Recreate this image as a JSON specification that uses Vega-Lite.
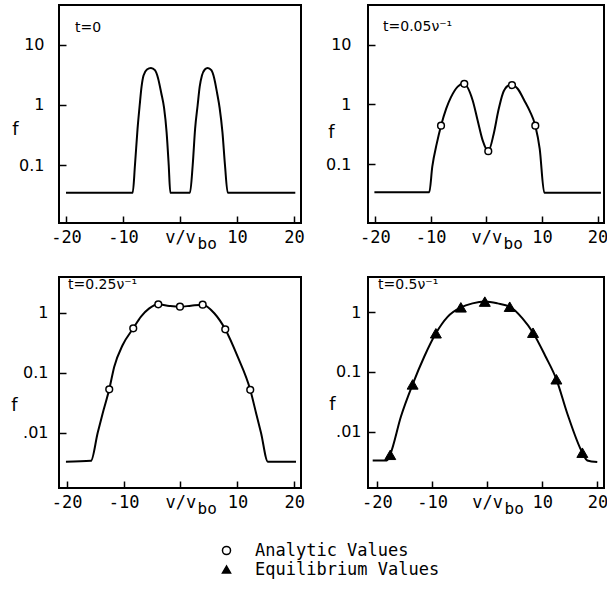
{
  "$schema": "https://vega.github.io/schema/vega-lite/v6.json",
  "padding": {"left": 9, "top": 4, "right": 0, "bottom": 2},
  "background": "white",
  "config": {
    "view": {"stroke": "black", "strokeWidth": 2},
    "axis": {"grid": false, "domain": false, "ticks": true, "tickColor": "black", "tickWidth": 1.5, "tickSize": -7, "labelColor": "black", "titleColor": "black", "titleFontWeight": "normal"},
    "title": {"font": "DejaVu Sans", "fontSize": 14, "fontWeight": "normal", "anchor": "start", "frame": "group", "baseline": "alphabetic", "color": "black"},
    "line": {"color": "black", "strokeWidth": 2, "interpolate": "monotone"},
    "legend": {"title": null, "labelFont": "DejaVu Sans Mono", "labelFontSize": 17, "labelColor": "black", "labelLimit": 0, "symbolStrokeColor": "black", "symbolStrokeWidth": 1.5, "symbolSize": 65, "labelOffset": 20, "rowPadding": 1, "padding": 0}
  },
  "datasets": {
    "c1": [
      {"v": -20.0, "f": 0.0346}, {"v": -8.30, "f": 0.0346}, {"v": -7.90, "f": 0.1}, {"v": -7.45, "f": 0.4}, {"v": -7.07, "f": 1.0}, {"v": -6.75, "f": 2.0}, {"v": -6.4, "f": 3.1}, {"v": -5.8, "f": 3.9}, {"v": -5.09, "f": 4.15}, {"v": -4.4, "f": 3.8}, {"v": -3.85, "f": 2.8}, {"v": -3.3, "f": 1.6}, {"v": -2.8, "f": 0.9}, {"v": -2.35, "f": 0.35}, {"v": -1.98, "f": 0.1}, {"v": -1.70, "f": 0.0346},
      {"v": 1.75, "f": 0.0346}, {"v": 2.23, "f": 0.1}, {"v": 2.65, "f": 0.4}, {"v": 3.10, "f": 1.0}, {"v": 3.45, "f": 2.0}, {"v": 3.85, "f": 3.1}, {"v": 4.35, "f": 3.9}, {"v": 4.86, "f": 4.15}, {"v": 5.5, "f": 3.8}, {"v": 6.0, "f": 2.8}, {"v": 6.5, "f": 1.6}, {"v": 6.95, "f": 0.9}, {"v": 7.45, "f": 0.35}, {"v": 7.89, "f": 0.1}, {"v": 8.37, "f": 0.0346}, {"v": 20.23, "f": 0.0346}
    ],
    "c2": [
      {"v": -20.1, "f": 0.0336}, {"v": -10.24, "f": 0.0336}, {"v": -9.7, "f": 0.09}, {"v": -8.9, "f": 0.22}, {"v": -8.13, "f": 0.44}, {"v": -7.2, "f": 0.85}, {"v": -6.34, "f": 1.33}, {"v": -5.13, "f": 2.0}, {"v": -4.1, "f": 2.26}, {"v": -2.44, "f": 1.17}, {"v": -1.55, "f": 0.54}, {"v": -0.65, "f": 0.25}, {"v": 0.36, "f": 0.164}, {"v": 1.33, "f": 0.32}, {"v": 2.17, "f": 0.79}, {"v": 2.95, "f": 1.51}, {"v": 3.85, "f": 2.05}, {"v": 4.5, "f": 2.15}, {"v": 5.64, "f": 1.84}, {"v": 6.83, "f": 1.17}, {"v": 7.8, "f": 0.78}, {"v": 8.81, "f": 0.44}, {"v": 9.6, "f": 0.18}, {"v": 10.42, "f": 0.033}, {"v": 20.6, "f": 0.033}
    ],
    "p2": [
      {"v": -8.13, "f": 0.44, "kind": "Analytic Values"}, {"v": -3.95, "f": 2.23, "kind": "Analytic Values"}, {"v": 0.36, "f": 0.164, "kind": "Analytic Values"}, {"v": 4.62, "f": 2.12, "kind": "Analytic Values"}, {"v": 8.81, "f": 0.44, "kind": "Analytic Values"}
    ],
    "c3": [
      {"v": -20.13, "f": 0.0033}, {"v": -15.73, "f": 0.0034}, {"v": -14.55, "f": 0.01}, {"v": -13.68, "f": 0.021}, {"v": -12.52, "f": 0.053}, {"v": -11.64, "f": 0.126}, {"v": -10.16, "f": 0.29}, {"v": -8.3, "f": 0.55}, {"v": -6.94, "f": 0.86}, {"v": -5.49, "f": 1.18}, {"v": -3.9, "f": 1.38}, {"v": -1.97, "f": 1.3}, {"v": -0.09, "f": 1.26}, {"v": 1.84, "f": 1.31}, {"v": 3.9, "f": 1.36}, {"v": 5.94, "f": 0.98}, {"v": 7.87, "f": 0.53}, {"v": 10.05, "f": 0.185}, {"v": 12.26, "f": 0.052}, {"v": 13.3, "f": 0.021}, {"v": 14.15, "f": 0.01}, {"v": 15.35, "f": 0.0033}, {"v": 20.3, "f": 0.0033}
    ],
    "p3": [
      {"v": -12.52, "f": 0.053, "kind": "Analytic Values"}, {"v": -8.3, "f": 0.55, "kind": "Analytic Values"}, {"v": -3.9, "f": 1.38, "kind": "Analytic Values"}, {"v": -0.09, "f": 1.26, "kind": "Analytic Values"}, {"v": 3.9, "f": 1.36, "kind": "Analytic Values"}, {"v": 7.87, "f": 0.53, "kind": "Analytic Values"}, {"v": 12.26, "f": 0.052, "kind": "Analytic Values"}
    ],
    "c4": [
      {"v": -20.78, "f": 0.0033}, {"v": -18.2, "f": 0.0033}, {"v": -17.59, "f": 0.0042}, {"v": -15.65, "f": 0.018}, {"v": -13.53, "f": 0.062}, {"v": -11.43, "f": 0.18}, {"v": -9.31, "f": 0.445}, {"v": -7.19, "f": 0.84}, {"v": -4.78, "f": 1.21}, {"v": -2.66, "f": 1.41}, {"v": -0.43, "f": 1.51}, {"v": 1.87, "f": 1.41}, {"v": 4.09, "f": 1.24}, {"v": 6.4, "f": 0.79}, {"v": 8.32, "f": 0.455}, {"v": 10.62, "f": 0.18}, {"v": 12.56, "f": 0.0755}, {"v": 14.55, "f": 0.02}, {"v": 17.27, "f": 0.00445}, {"v": 18.17, "f": 0.0033}, {"v": 19.98, "f": 0.0031}
    ],
    "p4": [
      {"v": -17.59, "f": 0.0041, "kind": "Equilibrium Values"}, {"v": -13.53, "f": 0.062, "kind": "Equilibrium Values"}, {"v": -9.31, "f": 0.445, "kind": "Equilibrium Values"}, {"v": -4.78, "f": 1.21, "kind": "Equilibrium Values"}, {"v": -0.43, "f": 1.51, "kind": "Equilibrium Values"}, {"v": 4.09, "f": 1.24, "kind": "Equilibrium Values"}, {"v": 8.32, "f": 0.455, "kind": "Equilibrium Values"}, {"v": 12.56, "f": 0.0755, "kind": "Equilibrium Values"}, {"v": 17.27, "f": 0.00445, "kind": "Equilibrium Values"}
    ]
  },
  "columns": 2,
  "spacing": {"row": 54, "column": 67},
  "bounds": "flush",
  "resolve": {"scale": {"x": "independent", "y": "independent"}},
  "concat": [
    {
      "width": 242, "height": 218,
      "title": {"text": "t=0", "offset": -30, "dx": 16},
      "data": {"name": "c1"},
      "mark": {"type": "line"},
      "encoding": {
        "x": {"field": "v", "type": "quantitative", "scale": {"domain": [-21.23, 21.23], "nice": false, "zero": false},
              "axis": {"values": [-20, -10, 0, 10, 20], "labelExpr": "datum.value == 0 ? 'v/v' : (datum.value < 0 ? '-' + abs(datum.value) : '' + datum.value)", "labelFont": "DejaVu Sans Mono", "labelFontSize": 17, "labelPadding": 13, "labelFlush": false, "title": "bo", "titleFont": "DejaVu Sans Mono", "titleFontSize": 16, "titleX": 138, "titleY": 25, "titleAlign": "left", "titleBaseline": "alphabetic"}},
        "y": {"field": "f", "type": "quantitative", "scale": {"type": "log", "domain": [0.0108, 46.4], "nice": false},
              "axis": {"values": [0.1, 1, 10], "labelExpr": "datum.value < 0.05 ? '.01' : datum.value < 0.5 ? '0.1' : datum.value < 5 ? '1' : '10'", "labelFont": "DejaVu Sans", "labelFontSize": 16, "labelPadding": 22, "title": "f", "titleAngle": 0, "titleX": -44, "titleY": 124, "titleAlign": "center", "titleBaseline": "middle", "titleFont": "DejaVu Sans", "titleFontSize": 18}}
      }
    },
    {
      "width": 236, "height": 218,
      "title": {"text": "t=0.05ν⁻¹", "offset": -29, "dx": 15},
      "encoding": {
        "x": {"field": "v", "type": "quantitative", "scale": {"domain": [-21.25, 21.15], "nice": false, "zero": false},
              "axis": {"values": [-20, -10, 0, 10, 20], "labelExpr": "datum.value == 0 ? 'v/v' : (datum.value < 0 ? '-' + abs(datum.value) : '' + datum.value)", "labelFont": "DejaVu Sans Mono", "labelFontSize": 17, "labelPadding": 13, "labelFlush": false, "title": "bo", "titleFont": "DejaVu Sans Mono", "titleFontSize": 16, "titleX": 135, "titleY": 25, "titleAlign": "left", "titleBaseline": "alphabetic"}},
        "y": {"field": "f", "type": "quantitative", "scale": {"type": "log", "domain": [0.0102, 47], "nice": false},
              "axis": {"values": [0.1, 1, 10], "labelExpr": "datum.value < 0.05 ? '.01' : datum.value < 0.5 ? '0.1' : datum.value < 5 ? '1' : '10'", "labelFont": "DejaVu Sans", "labelFontSize": 16, "labelPadding": 24, "title": "f", "titleAngle": 0, "titleX": -37, "titleY": 127, "titleAlign": "center", "titleBaseline": "middle", "titleFont": "DejaVu Sans", "titleFontSize": 18}}
      },
      "layer": [
        {"data": {"name": "c2"}, "mark": {"type": "line"}},
        {"data": {"name": "p2"}, "mark": {"type": "point", "filled": true, "size": 45, "strokeWidth": 1.5, "opacity": 1},
         "encoding": {
           "shape": {"field": "kind", "type": "nominal", "scale": {"domain": ["Analytic Values", "Equilibrium Values"], "range": ["circle", "triangle-up"]}, "legend": {"orient": "none", "legendX": 159, "legendY": 537}},
           "fill": {"field": "kind", "type": "nominal", "scale": {"domain": ["Analytic Values", "Equilibrium Values"], "range": ["white", "black"]}, "legend": {"orient": "none", "legendX": 159, "legendY": 537}},
           "stroke": {"field": "kind", "type": "nominal", "scale": {"domain": ["Analytic Values", "Equilibrium Values"], "range": ["black", "black"]}, "legend": {"orient": "none", "legendX": 159, "legendY": 537}}
         }}
      ]
    },
    {
      "width": 242, "height": 211,
      "title": {"text": "t=0.25ν⁻¹", "offset": -15, "dx": 9, "fontSize": 14},
      "encoding": {
        "x": {"field": "v", "type": "quantitative", "scale": {"domain": [-21.35, 21.18], "nice": false, "zero": false},
              "axis": {"values": [-20, -10, 0, 10, 20], "labelExpr": "datum.value == 0 ? 'v/v' : (datum.value < 0 ? '-' + abs(datum.value) : '' + datum.value)", "labelFont": "DejaVu Sans Mono", "labelFontSize": 17, "labelPadding": 13, "labelFlush": false, "title": "bo", "titleFont": "DejaVu Sans Mono", "titleFontSize": 16, "titleX": 138, "titleY": 25, "titleAlign": "left", "titleBaseline": "alphabetic"}},
        "y": {"field": "f", "type": "quantitative", "scale": {"type": "log", "domain": [0.0012, 3.94], "nice": false},
              "axis": {"values": [0.01, 0.1, 1], "labelExpr": "datum.value < 0.05 ? '.01' : datum.value < 0.5 ? '0.1' : datum.value < 5 ? '1' : '10'", "labelFont": "DejaVu Sans", "labelFontSize": 16, "labelPadding": 18, "title": "f", "titleAngle": 0, "titleX": -45, "titleY": 128, "titleAlign": "center", "titleBaseline": "middle", "titleFont": "DejaVu Sans", "titleFontSize": 18}}
      },
      "layer": [
        {"data": {"name": "c3"}, "mark": {"type": "line"}},
        {"data": {"name": "p3"}, "mark": {"type": "point", "filled": true, "size": 45, "strokeWidth": 1.5, "opacity": 1},
         "encoding": {
           "shape": {"field": "kind", "type": "nominal", "scale": {"domain": ["Analytic Values", "Equilibrium Values"], "range": ["circle", "triangle-up"]}, "legend": {"orient": "none", "legendX": 159, "legendY": 537}},
           "fill": {"field": "kind", "type": "nominal", "scale": {"domain": ["Analytic Values", "Equilibrium Values"], "range": ["white", "black"]}, "legend": {"orient": "none", "legendX": 159, "legendY": 537}},
           "stroke": {"field": "kind", "type": "nominal", "scale": {"domain": ["Analytic Values", "Equilibrium Values"], "range": ["black", "black"]}, "legend": {"orient": "none", "legendX": 159, "legendY": 537}}
         }}
      ]
    },
    {
      "width": 236, "height": 211,
      "title": {"text": "t=0.5ν⁻¹", "offset": -15, "dx": 10, "fontSize": 14},
      "encoding": {
        "x": {"field": "v", "type": "quantitative", "scale": {"domain": [-21.63, 21.2], "nice": false, "zero": false},
              "axis": {"values": [-20, -10, 0, 10, 20], "labelExpr": "datum.value == 0 ? 'v/v' : (datum.value < 0 ? '-' + abs(datum.value) : '' + datum.value)", "labelFont": "DejaVu Sans Mono", "labelFontSize": 17, "labelPadding": 13, "labelFlush": false, "title": "bo", "titleFont": "DejaVu Sans Mono", "titleFontSize": 16, "titleX": 136, "titleY": 25, "titleAlign": "left", "titleBaseline": "alphabetic"}},
        "y": {"field": "f", "type": "quantitative", "scale": {"type": "log", "domain": [0.00114, 3.9], "nice": false},
              "axis": {"values": [0.01, 0.1, 1], "labelExpr": "datum.value < 0.05 ? '.01' : datum.value < 0.5 ? '0.1' : datum.value < 5 ? '1' : '10'", "labelFont": "DejaVu Sans", "labelFontSize": 16, "labelPadding": 14, "title": "f", "titleAngle": 0, "titleX": -36, "titleY": 127, "titleAlign": "center", "titleBaseline": "middle", "titleFont": "DejaVu Sans", "titleFontSize": 18}}
      },
      "layer": [
        {"data": {"name": "c4"}, "mark": {"type": "line"}},
        {"data": {"name": "p4"}, "mark": {"type": "point", "filled": true, "size": 120, "strokeWidth": 1, "opacity": 1},
         "encoding": {
           "shape": {"field": "kind", "type": "nominal", "scale": {"domain": ["Analytic Values", "Equilibrium Values"], "range": ["circle", "triangle-up"]}, "legend": {"orient": "none", "legendX": 159, "legendY": 537}},
           "fill": {"field": "kind", "type": "nominal", "scale": {"domain": ["Analytic Values", "Equilibrium Values"], "range": ["white", "black"]}, "legend": {"orient": "none", "legendX": 159, "legendY": 537}},
           "stroke": {"field": "kind", "type": "nominal", "scale": {"domain": ["Analytic Values", "Equilibrium Values"], "range": ["black", "black"]}, "legend": {"orient": "none", "legendX": 159, "legendY": 537}}
         }}
      ]
    }
  ]
}
